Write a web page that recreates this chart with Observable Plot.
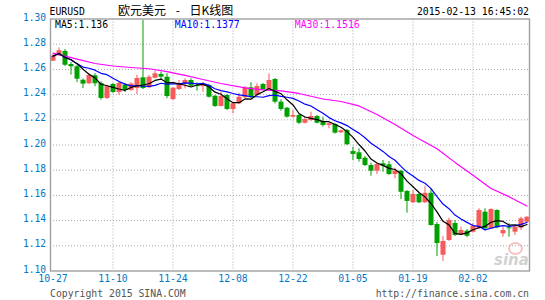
<!DOCTYPE html>
<html><head><meta charset="utf-8">
<script src="https://cdn.jsdelivr.net/npm/d3@7"></script>
<script src="https://cdn.jsdelivr.net/npm/@observablehq/plot@0.6"></script>
<style>
html,body{margin:0;padding:0;background:#fff;}
#wrap{position:relative;width:545px;height:300px;overflow:hidden;}
.t{position:absolute;white-space:pre;font-family:"DejaVu Sans Mono",monospace;font-size:9.8px;line-height:1;}
</style></head><body><div id="wrap"></div>
<script>
const dates = ["10-27","10-28","10-29","10-30","10-31","11-03","11-04","11-05","11-06","11-07",
"11-10","11-11","11-12","11-13","11-14","11-17","11-18","11-19","11-20","11-21",
"11-24","11-25","11-26","11-27","11-28","12-01","12-02","12-03","12-04","12-05",
"12-08","12-09","12-10","12-11","12-12","12-15","12-16","12-17","12-18","12-19",
"12-22","12-23","12-24","12-25","12-26","12-29","12-30","12-31","01-01","01-02",
"01-05","01-06","01-07","01-08","01-09","01-12","01-13","01-14","01-15","01-16",
"01-19","01-20","01-21","01-22","01-23","01-26","01-27","01-28","01-29","01-30",
"02-02","02-03","02-04","02-05","02-06","02-09","02-10","02-11","02-12","02-13"];
const open = [1.2665,1.2708,1.2742,1.2639,1.2621,1.2514,1.2486,1.2549,1.2488,1.2369,
1.2480,1.2417,1.2475,1.2433,1.2448,1.2533,1.2454,1.2530,1.2560,1.2538,
1.2361,1.2440,1.2480,1.2512,1.2472,1.2464,1.2472,1.2387,1.2306,1.2393,
1.2282,1.2327,1.2375,1.2454,1.2393,1.2480,1.2438,1.2520,1.2340,1.2292,
1.2221,1.2234,1.2173,1.2194,1.2226,1.2187,1.2155,1.2163,1.2097,1.2115,
1.1948,1.1938,1.1895,1.1837,1.1792,1.1851,1.1843,1.1766,1.1792,1.1631,
1.1541,1.1607,1.1541,1.1617,1.1369,1.1125,1.1242,1.1377,1.1286,1.1316,
1.1308,1.1335,1.1467,1.1335,1.1480,1.1295,1.1343,1.1308,1.1340,1.1387];
const high = [1.2718,1.2771,1.2758,1.2655,1.2631,1.2524,1.2567,1.2567,1.2502,1.2475,
1.2488,1.2502,1.2488,1.2494,1.2554,1.2990,1.2552,1.2586,1.2578,1.2565,
1.2456,1.2512,1.2525,1.2525,1.2494,1.2494,1.2480,1.2393,1.2419,1.2401,
1.2333,1.2411,1.2464,1.2494,1.2486,1.2488,1.2565,1.2528,1.2359,1.2298,
1.2274,1.2242,1.2221,1.2260,1.2234,1.2221,1.2175,1.2171,1.2118,1.2123,
1.1983,1.1970,1.1909,1.1856,1.1853,1.1877,1.1869,1.1816,1.1798,1.1639,
1.1639,1.1615,1.1671,1.1652,1.1385,1.1274,1.1420,1.1400,1.1348,1.1330,
1.1375,1.1494,1.1494,1.1494,1.1486,1.1348,1.1375,1.1361,1.1427,1.1430];
const low = [1.2663,1.2702,1.2623,1.2554,1.2494,1.2448,1.2480,1.2462,1.2356,1.2361,
1.2409,1.2395,1.2417,1.2427,1.2401,1.2440,1.2448,1.2524,1.2517,1.2367,
1.2353,1.2433,1.2446,1.2460,1.2427,1.2419,1.2373,1.2298,1.2302,1.2274,
1.2248,1.2321,1.2369,1.2369,1.2385,1.2433,1.2433,1.2327,1.2268,1.2214,
1.2214,1.2163,1.2167,1.2187,1.2168,1.2141,1.2129,1.2087,1.2091,1.1996,
1.1877,1.1864,1.1829,1.1752,1.1766,1.1784,1.1758,1.1732,1.1567,1.1459,
1.1536,1.1536,1.1536,1.1356,1.1115,1.1075,1.1235,1.1274,1.1280,1.1265,
1.1302,1.1330,1.1330,1.1330,1.1335,1.1268,1.1268,1.1282,1.1321,1.1380];
const close = [1.2705,1.2748,1.2633,1.2621,1.2522,1.2483,1.2552,1.2486,1.2369,1.2462,
1.2417,1.2488,1.2435,1.2483,1.2528,1.2448,1.2538,1.2565,1.2538,1.2385,
1.2451,1.2486,1.2512,1.2467,1.2464,1.2480,1.2379,1.2306,1.2385,1.2282,
1.2327,1.2379,1.2454,1.2375,1.2464,1.2438,1.2512,1.2340,1.2282,1.2221,
1.2234,1.2173,1.2202,1.2226,1.2173,1.2155,1.2168,1.2094,1.2113,1.2002,
1.1925,1.1885,1.1837,1.1792,1.1845,1.1832,1.1766,1.1792,1.1625,1.1552,
1.1607,1.1541,1.1617,1.1361,1.1218,1.1234,1.1401,1.1282,1.1321,1.1276,
1.1356,1.1480,1.1335,1.1488,1.1343,1.1321,1.1335,1.1348,1.1414,1.1427];
// MA30 (needs 29 earlier days that are not shown)
const ma30Dates = ["10-27","10-31","11-05","11-10","11-13","11-18","11-21","11-26","12-01","12-04",
"12-10","12-15","12-18","12-23","12-29","01-01","01-06","01-09","01-14","01-19",
"01-23","01-28","02-02","02-05","02-10","02-13"];
const ma30 = [1.2729,1.2681,1.2647,1.2627,1.2615,1.2605,1.2583,1.2552,1.2520,1.2488,
1.2454,1.2438,1.2429,1.2409,1.2365,1.2345,1.2310,1.2242,1.2163,1.2075,
1.1970,1.1862,1.1760,1.1655,1.1590,1.1516];
const yTicks = [1.10,1.12,1.14,1.16,1.18,1.20,1.22,1.24,1.26,1.28,1.30];
const xTickLabels = ["10-27","11-10","11-24","12-08","12-22","01-05","01-19","02-02"];
const legend = [{text:"MA5:1.136", color:"#000000"},{text:"MA10:1.1377", color:"#0000ff"},{text:"MA30:1.1516", color:"#ff00ff"}];
const title = "欧元美元 - 日K线图";
const symbol = "EURUSD";
const stamp = "2015-02-13 16:45:02";

const data = dates.map((d,i)=>({i, date:d, open:open[i], high:high[i], low:low[i], close:close[i]}));
const ma30Data = ma30Dates.map((d,k)=>({i:dates.indexOf(d), v:ma30[k]}));
const tickIdx = xTickLabels.map(l=>dates.indexOf(l));
const UP = "#f65a5a", DOWN = "#00a000";
const col = d => d.close >= d.open ? UP : DOWN;
const mono = "DejaVu Sans Mono";

const chart = Plot.plot({
  width:545, height:300,
  marginLeft:50, marginRight:16, marginTop:18.5, marginBottom:29.5,
  x:{type:"linear", domain:[-0.4167,79.417], axis:null},
  y:{domain:[1.10,1.30], axis:null},
  style:{background:"transparent", overflow:"visible"},
  marks:[
    Plot.ruleY(yTicks.slice(1,-1), {stroke:"#aaaaaa", strokeDasharray:"1,2"}),
    Plot.ruleX(tickIdx.slice(1), {stroke:"#aaaaaa", strokeDasharray:"1,2"}),
    Plot.ruleX(data, {x:"i", y1:"low", y2:"high", stroke:col, strokeWidth:1}),
    Plot.ruleX(data, {x:"i", y1:"open", y2:"close", stroke:col, strokeWidth:5}),
    Plot.lineY(ma30Data, {x:"i", y:"v", stroke:"#ff00ff", strokeWidth:1.2}),
    Plot.lineY(data, Plot.windowY({k:10, anchor:"end", strict:false}, {x:"i", y:"close", stroke:"#0000ff", strokeWidth:1.2})),
    Plot.lineY(data, Plot.windowY({k:5, anchor:"end", strict:false}, {x:"i", y:"close", stroke:"#000000", strokeWidth:1.2})),
    Plot.frame({stroke:"#a0a0a0", strokeWidth:1.4}),
    Plot.text(yTicks, {y:d=>d, frameAnchor:"left", dx:-4.5, dy:-1.5, textAnchor:"end", text:d=>d.toFixed(2), fill:"#0078c8", fontFamily:mono, fontSize:9.6}),
    Plot.text(tickIdx, {x:d=>d, frameAnchor:"bottom", dy:10.5, text:(d,k)=>xTickLabels[k], fill:"#0078c8", fontFamily:mono, fontSize:9.8})
  ]
});
const wrap = document.getElementById("wrap");
wrap.appendChild(chart);
chart.style.position = "absolute"; chart.style.left = "0"; chart.style.top = "0";

function addText(txt, css){
  const s = document.createElement("div");
  s.className = "t"; s.textContent = txt;
  Object.assign(s.style, css);
  wrap.appendChild(s);
  return s;
}
addText(symbol, {left:"49.5px", top:"6.8px", color:"#000"});
addText(title, {left:"118px", top:"3.8px", fontFamily:"'Noto Sans CJK SC', sans-serif", fontSize:"12px", wordSpacing:"7px", color:"#000"});
addText(stamp, {right:"16px", top:"6.8px", color:"#000"});
const legendX = [55, 174.8, 294.8];
legend.forEach((l,k)=>addText(l.text, {left:legendX[k]+"px", top:"20px", color:l.color}));
addText("Copyright 2015 SINA.COM", {left:"50px", top:"288.8px", color:"#555"});
addText("http://finance.sina.com.cn", {right:"16px", top:"288.8px", color:"#555"});
// sina watermark
const eye = document.createElement("div");
Object.assign(eye.style, {position:"absolute", left:"508px", top:"242px", width:"11px", height:"9px", border:"2px solid rgba(240,120,120,0.45)", borderRadius:"50%"});
wrap.appendChild(eye);
addText("sina", {left:"494px", top:"253px", fontFamily:"'DejaVu Sans', sans-serif", fontSize:"15px", fontWeight:"bold", fontStyle:"italic", color:"rgba(150,150,150,0.45)"});
</script></body></html>
